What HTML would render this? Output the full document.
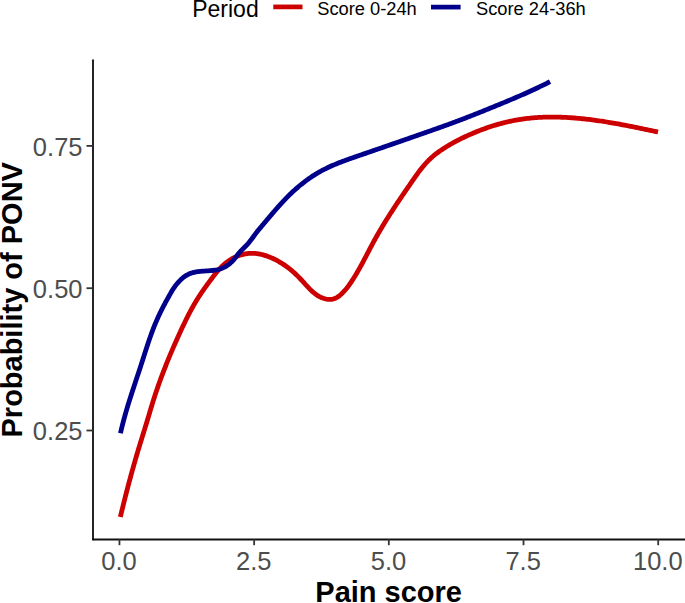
<!DOCTYPE html>
<html><head><meta charset="utf-8"><style>
html,body{margin:0;padding:0;background:#fff;}
body{width:685px;height:603px;overflow:hidden;}
svg{display:block;}
text{font-family:"Liberation Sans",sans-serif;}
.tk{font-size:25.5px;fill:#4D4D4D;}
.tt{font-size:29px;font-weight:bold;fill:#000;}
.lg{font-size:18.3px;fill:#000;}
.lt{font-size:23px;fill:#000;}
</style></head><body>
<svg width="685" height="603" viewBox="0 0 685 603">
<line x1="93" y1="60.2" x2="93" y2="539.4" stroke="#242424" stroke-width="2" stroke-linecap="round"/>
<line x1="93" y1="539.4" x2="686" y2="539.4" stroke="#111" stroke-width="2" stroke-linecap="round"/>
<line x1="86.5" y1="430.50" x2="93" y2="430.50" stroke="#333" stroke-width="1.8"/>
<text x="82.5" y="440.10" text-anchor="end" class="tk">0.25</text>
<line x1="86.5" y1="288.20" x2="93" y2="288.20" stroke="#333" stroke-width="1.8"/>
<text x="82.5" y="297.80" text-anchor="end" class="tk">0.50</text>
<line x1="86.5" y1="145.90" x2="93" y2="145.90" stroke="#333" stroke-width="1.8"/>
<text x="82.5" y="155.50" text-anchor="end" class="tk">0.75</text>
<line x1="119.45" y1="539.2" x2="119.45" y2="545.2" stroke="#333" stroke-width="1.8"/>
<text x="119.05" y="570.2" text-anchor="middle" class="tk">0.0</text>
<line x1="254.14" y1="539.2" x2="254.14" y2="545.2" stroke="#333" stroke-width="1.8"/>
<text x="253.74" y="570.2" text-anchor="middle" class="tk">2.5</text>
<line x1="388.82" y1="539.2" x2="388.82" y2="545.2" stroke="#333" stroke-width="1.8"/>
<text x="388.43" y="570.2" text-anchor="middle" class="tk">5.0</text>
<line x1="523.51" y1="539.2" x2="523.51" y2="545.2" stroke="#333" stroke-width="1.8"/>
<text x="523.11" y="570.2" text-anchor="middle" class="tk">7.5</text>
<line x1="658.20" y1="539.2" x2="658.20" y2="545.2" stroke="#333" stroke-width="1.8"/>
<text x="657.80" y="570.2" text-anchor="middle" class="tk">10.0</text>
<path d="M120.34,517.00 L120.72,515.42 L121.10,513.84 L121.48,512.26 L121.86,510.68 L122.25,509.10 L122.64,507.52 L123.03,505.94 L123.42,504.36 L123.82,502.77 L124.21,501.19 L124.61,499.61 L125.01,498.03 L125.41,496.45 L125.81,494.87 L126.22,493.29 L126.63,491.71 L127.04,490.13 L127.45,488.55 L127.86,486.97 L128.28,485.39 L128.69,483.81 L129.11,482.24 L129.54,480.66 L129.96,479.08 L130.39,477.51 L130.81,475.93 L131.24,474.36 L131.68,472.78 L132.11,471.21 L132.55,469.64 L132.99,468.07 L133.43,466.50 L133.88,464.93 L134.32,463.36 L134.77,461.79 L135.22,460.22 L135.68,458.66 L136.13,457.09 L136.59,455.53 L137.05,453.97 L137.52,452.40 L137.98,450.84 L138.45,449.29 L138.92,447.73 L139.39,446.17 L139.87,444.62 L140.35,443.06 L140.82,441.51 L141.30,439.95 L141.78,438.40 L142.26,436.85 L142.74,435.30 L143.22,433.75 L143.71,432.19 L144.19,430.64 L144.67,429.09 L145.14,427.54 L145.62,425.98 L146.10,424.43 L146.57,422.87 L147.05,421.32 L147.52,419.76 L147.98,418.20 L148.45,416.65 L148.92,415.09 L149.38,413.53 L149.84,411.97 L150.31,410.41 L150.78,408.85 L151.25,407.29 L151.72,405.73 L152.19,404.17 L152.67,402.62 L153.16,401.06 L153.65,399.51 L154.14,397.95 L154.64,396.40 L155.15,394.86 L155.66,393.31 L156.18,391.76 L156.70,390.22 L157.23,388.68 L157.76,387.14 L158.30,385.60 L158.84,384.06 L159.39,382.53 L159.94,380.99 L160.50,379.46 L161.06,377.93 L161.63,376.40 L162.20,374.88 L162.78,373.35 L163.36,371.83 L163.94,370.31 L164.53,368.79 L165.13,367.27 L165.73,365.75 L166.33,364.23 L166.94,362.72 L167.55,361.21 L168.16,359.70 L168.78,358.19 L169.41,356.68 L170.04,355.17 L170.67,353.67 L171.30,352.17 L171.94,350.67 L172.58,349.17 L173.23,347.67 L173.88,346.17 L174.53,344.68 L175.19,343.18 L175.85,341.69 L176.51,340.20 L177.18,338.71 L177.85,337.22 L178.52,335.74 L179.20,334.25 L179.88,332.77 L180.56,331.29 L181.25,329.81 L181.93,328.33 L182.62,326.85 L183.32,325.38 L184.02,323.91 L184.72,322.44 L185.43,320.97 L186.15,319.51 L186.87,318.05 L187.60,316.60 L188.34,315.15 L189.08,313.70 L189.83,312.26 L190.59,310.83 L191.37,309.39 L192.15,307.97 L192.94,306.55 L193.74,305.14 L194.55,303.74 L195.37,302.34 L196.21,300.95 L197.06,299.56 L197.92,298.19 L198.80,296.82 L199.68,295.46 L200.58,294.10 L201.49,292.75 L202.40,291.41 L203.33,290.07 L204.26,288.74 L205.20,287.41 L206.15,286.08 L207.11,284.76 L208.07,283.44 L209.04,282.13 L210.01,280.81 L210.99,279.50 L211.97,278.19 L212.96,276.89 L213.95,275.59 L214.96,274.30 L215.99,273.03 L217.03,271.77 L218.09,270.54 L219.17,269.32 L220.27,268.13 L221.40,266.97 L222.56,265.84 L223.75,264.74 L224.98,263.67 L226.24,262.65 L227.53,261.66 L228.87,260.72 L230.25,259.83 L231.65,258.98 L233.10,258.19 L234.57,257.44 L236.06,256.75 L237.59,256.12 L239.13,255.54 L240.69,255.03 L242.27,254.58 L243.86,254.19 L245.46,253.87 L247.07,253.62 L248.69,253.44 L250.31,253.33 L251.93,253.29 L253.55,253.33 L255.17,253.43 L256.78,253.60 L258.39,253.84 L259.99,254.13 L261.59,254.48 L263.18,254.88 L264.75,255.34 L266.32,255.84 L267.88,256.39 L269.42,256.98 L270.94,257.61 L272.45,258.27 L273.94,258.97 L275.41,259.70 L276.86,260.46 L278.29,261.25 L279.70,262.06 L281.08,262.89 L282.45,263.74 L283.79,264.62 L285.12,265.53 L286.43,266.46 L287.72,267.41 L288.99,268.39 L290.25,269.39 L291.49,270.41 L292.71,271.46 L293.93,272.54 L295.12,273.63 L296.31,274.76 L297.48,275.90 L298.64,277.07 L299.80,278.27 L300.94,279.49 L302.07,280.73 L303.20,281.98 L304.33,283.23 L305.46,284.49 L306.60,285.74 L307.75,286.97 L308.91,288.19 L310.08,289.37 L311.28,290.53 L312.50,291.64 L313.74,292.71 L315.01,293.72 L316.31,294.67 L317.65,295.56 L319.03,296.37 L320.45,297.10 L321.91,297.75 L323.42,298.30 L324.98,298.75 L326.58,299.09 L328.18,299.30 L329.79,299.38 L331.39,299.30 L332.96,299.06 L334.48,298.64 L335.94,298.03 L337.33,297.24 L338.66,296.30 L339.93,295.27 L341.16,294.19 L342.34,293.06 L343.49,291.90 L344.60,290.70 L345.67,289.46 L346.71,288.20 L347.72,286.91 L348.71,285.59 L349.67,284.26 L350.60,282.91 L351.52,281.55 L352.42,280.17 L353.30,278.79 L354.17,277.41 L355.03,276.02 L355.87,274.62 L356.70,273.22 L357.52,271.81 L358.34,270.40 L359.14,268.98 L359.93,267.56 L360.72,266.14 L361.50,264.72 L362.27,263.29 L363.04,261.85 L363.80,260.42 L364.56,258.98 L365.31,257.55 L366.07,256.11 L366.82,254.67 L367.57,253.23 L368.33,251.78 L369.08,250.34 L369.83,248.90 L370.59,247.46 L371.35,246.02 L372.12,244.58 L372.89,243.14 L373.66,241.70 L374.45,240.27 L375.24,238.84 L376.03,237.41 L376.84,235.98 L377.65,234.55 L378.46,233.13 L379.29,231.71 L380.11,230.29 L380.95,228.88 L381.79,227.47 L382.63,226.06 L383.48,224.66 L384.33,223.26 L385.19,221.86 L386.05,220.47 L386.92,219.08 L387.79,217.69 L388.66,216.31 L389.54,214.94 L390.41,213.57 L391.29,212.20 L392.18,210.83 L393.06,209.47 L393.95,208.11 L394.84,206.76 L395.74,205.40 L396.63,204.05 L397.53,202.71 L398.43,201.36 L399.33,200.02 L400.24,198.67 L401.15,197.33 L402.06,195.99 L402.97,194.65 L403.88,193.31 L404.80,191.97 L405.72,190.63 L406.64,189.29 L407.56,187.95 L408.48,186.61 L409.41,185.27 L410.33,183.92 L411.26,182.58 L412.19,181.23 L413.12,179.89 L414.06,178.54 L415.00,177.19 L415.95,175.85 L416.90,174.52 L417.86,173.19 L418.84,171.87 L419.82,170.56 L420.82,169.26 L421.83,167.97 L422.86,166.71 L423.91,165.45 L424.97,164.22 L426.06,163.01 L427.17,161.82 L428.30,160.66 L429.45,159.52 L430.63,158.40 L431.84,157.32 L433.06,156.25 L434.31,155.21 L435.58,154.20 L436.86,153.20 L438.17,152.23 L439.49,151.28 L440.83,150.35 L442.18,149.43 L443.54,148.54 L444.92,147.66 L446.31,146.79 L447.71,145.95 L449.11,145.11 L450.53,144.29 L451.95,143.49 L453.38,142.69 L454.81,141.91 L456.25,141.15 L457.70,140.39 L459.16,139.65 L460.62,138.92 L462.08,138.19 L463.55,137.49 L465.03,136.79 L466.51,136.10 L467.99,135.42 L469.48,134.76 L470.98,134.10 L472.47,133.45 L473.98,132.82 L475.48,132.19 L476.99,131.58 L478.50,130.98 L480.02,130.38 L481.54,129.80 L483.07,129.23 L484.60,128.67 L486.13,128.12 L487.67,127.59 L489.21,127.06 L490.75,126.55 L492.30,126.05 L493.85,125.56 L495.40,125.09 L496.96,124.63 L498.52,124.18 L500.09,123.74 L501.66,123.32 L503.23,122.91 L504.80,122.51 L506.38,122.13 L507.96,121.76 L509.55,121.40 L511.14,121.06 L512.73,120.74 L514.32,120.42 L515.92,120.12 L517.52,119.84 L519.12,119.57 L520.73,119.32 L522.34,119.08 L523.95,118.85 L525.57,118.64 L527.18,118.45 L528.80,118.27 L530.43,118.10 L532.05,117.94 L533.67,117.80 L535.30,117.67 L536.93,117.56 L538.56,117.45 L540.19,117.36 L541.82,117.28 L543.46,117.22 L545.09,117.16 L546.73,117.12 L548.36,117.09 L550.00,117.07 L551.64,117.06 L553.27,117.06 L554.91,117.08 L556.55,117.10 L558.18,117.13 L559.82,117.18 L561.45,117.23 L563.09,117.29 L564.72,117.37 L566.36,117.45 L567.99,117.54 L569.62,117.64 L571.25,117.75 L572.88,117.87 L574.51,117.99 L576.13,118.13 L577.76,118.27 L579.38,118.42 L581.00,118.57 L582.62,118.74 L584.24,118.91 L585.86,119.09 L587.48,119.28 L589.09,119.47 L590.71,119.67 L592.32,119.88 L593.93,120.09 L595.55,120.31 L597.16,120.53 L598.77,120.76 L600.38,121.00 L601.98,121.24 L603.59,121.49 L605.20,121.75 L606.80,122.00 L608.41,122.27 L610.01,122.53 L611.62,122.81 L613.22,123.08 L614.82,123.37 L616.43,123.65 L618.03,123.94 L619.63,124.23 L621.23,124.53 L622.83,124.83 L624.43,125.14 L626.03,125.44 L627.63,125.75 L629.23,126.07 L630.83,126.38 L632.43,126.70 L634.03,127.02 L635.62,127.34 L637.22,127.67 L638.82,127.99 L640.42,128.32 L642.02,128.65 L643.61,128.98 L645.21,129.32 L646.81,129.65 L648.41,129.98 L650.01,130.32 L651.61,130.66 L653.20,130.99 L654.80,131.33 L656.40,131.66 L658.00,132.00" fill="none" stroke="#CC0000" stroke-width="4.8" stroke-linejoin="round"/>
<path d="M120.45,433.33 L120.72,432.16 L120.98,430.98 L121.26,429.81 L121.54,428.64 L121.82,427.48 L122.10,426.31 L122.40,425.15 L122.69,423.98 L122.99,422.82 L123.29,421.66 L123.60,420.51 L123.91,419.35 L124.22,418.19 L124.54,417.04 L124.86,415.89 L125.18,414.74 L125.51,413.59 L125.84,412.44 L126.17,411.29 L126.51,410.15 L126.85,409.00 L127.19,407.86 L127.53,406.72 L127.88,405.57 L128.22,404.43 L128.57,403.29 L128.93,402.15 L129.28,401.02 L129.64,399.88 L130.00,398.74 L130.36,397.61 L130.72,396.47 L131.09,395.34 L131.45,394.20 L131.82,393.07 L132.19,391.93 L132.55,390.80 L132.92,389.67 L133.30,388.54 L133.67,387.40 L134.04,386.27 L134.42,385.14 L134.79,384.01 L135.16,382.88 L135.54,381.74 L135.92,380.61 L136.29,379.48 L136.67,378.35 L137.04,377.22 L137.42,376.09 L137.80,374.95 L138.17,373.82 L138.55,372.69 L138.92,371.55 L139.30,370.42 L139.67,369.29 L140.04,368.15 L140.41,367.02 L140.78,365.88 L141.15,364.74 L141.52,363.61 L141.89,362.47 L142.26,361.33 L142.62,360.19 L142.99,359.05 L143.35,357.91 L143.71,356.77 L144.08,355.63 L144.44,354.49 L144.81,353.35 L145.17,352.21 L145.54,351.07 L145.90,349.93 L146.27,348.79 L146.64,347.65 L147.01,346.51 L147.39,345.38 L147.76,344.24 L148.14,343.10 L148.52,341.97 L148.90,340.84 L149.29,339.70 L149.68,338.57 L150.07,337.44 L150.47,336.31 L150.87,335.19 L151.27,334.06 L151.68,332.94 L152.10,331.82 L152.51,330.70 L152.94,329.58 L153.37,328.47 L153.80,327.35 L154.24,326.24 L154.69,325.13 L155.14,324.03 L155.60,322.93 L156.07,321.83 L156.54,320.73 L157.02,319.64 L157.50,318.55 L157.99,317.46 L158.49,316.37 L159.00,315.29 L159.51,314.21 L160.02,313.13 L160.54,312.06 L161.07,310.98 L161.60,309.91 L162.14,308.85 L162.68,307.78 L163.23,306.72 L163.78,305.66 L164.34,304.60 L164.90,303.55 L165.46,302.49 L166.03,301.44 L166.60,300.39 L167.18,299.35 L167.76,298.30 L168.34,297.26 L168.93,296.22 L169.52,295.18 L170.11,294.14 L170.70,293.11 L171.30,292.08 L171.90,291.05 L172.52,290.03 L173.15,289.02 L173.79,288.02 L174.47,287.05 L175.16,286.09 L175.89,285.15 L176.63,284.22 L177.40,283.32 L178.19,282.43 L179.01,281.56 L179.84,280.70 L180.69,279.85 L181.55,279.03 L182.45,278.22 L183.36,277.46 L184.31,276.73 L185.29,276.04 L186.30,275.40 L187.34,274.81 L188.40,274.28 L189.49,273.79 L190.59,273.36 L191.71,272.98 L192.84,272.65 L193.99,272.36 L195.15,272.10 L196.32,271.89 L197.51,271.70 L198.69,271.54 L199.89,271.41 L201.09,271.29 L202.30,271.19 L203.51,271.10 L204.72,271.03 L205.94,270.95 L207.15,270.87 L208.36,270.80 L209.57,270.71 L210.78,270.61 L211.98,270.50 L213.17,270.37 L214.36,270.21 L215.54,270.03 L216.70,269.82 L217.86,269.57 L219.00,269.29 L220.13,268.96 L221.24,268.58 L222.34,268.16 L223.42,267.68 L224.48,267.16 L225.52,266.58 L226.54,265.96 L227.54,265.30 L228.51,264.60 L229.46,263.86 L230.38,263.08 L231.28,262.28 L232.14,261.44 L232.98,260.57 L233.79,259.67 L234.56,258.76 L235.32,257.82 L236.05,256.88 L236.77,255.92 L237.49,254.97 L238.22,254.03 L238.96,253.10 L239.73,252.18 L240.52,251.30 L241.34,250.43 L242.18,249.58 L243.03,248.75 L243.89,247.91 L244.74,247.08 L245.59,246.24 L246.42,245.39 L247.24,244.51 L248.03,243.62 L248.80,242.71 L249.55,241.79 L250.29,240.85 L251.02,239.90 L251.74,238.94 L252.45,237.98 L253.15,237.01 L253.86,236.05 L254.56,235.08 L255.27,234.12 L255.99,233.16 L256.72,232.21 L257.45,231.27 L258.20,230.34 L258.95,229.42 L259.71,228.50 L260.48,227.59 L261.25,226.68 L262.02,225.77 L262.79,224.86 L263.56,223.95 L264.33,223.04 L265.10,222.13 L265.87,221.21 L266.64,220.30 L267.41,219.39 L268.18,218.48 L268.95,217.56 L269.73,216.65 L270.50,215.74 L271.27,214.83 L272.05,213.92 L272.82,213.01 L273.60,212.10 L274.38,211.20 L275.16,210.30 L275.95,209.39 L276.73,208.50 L277.52,207.60 L278.31,206.70 L279.11,205.81 L279.91,204.93 L280.71,204.04 L281.52,203.16 L282.32,202.28 L283.14,201.41 L283.95,200.54 L284.78,199.67 L285.60,198.81 L286.43,197.95 L287.27,197.10 L288.11,196.25 L288.96,195.41 L289.81,194.57 L290.67,193.74 L291.53,192.92 L292.40,192.10 L293.27,191.28 L294.15,190.48 L295.04,189.68 L295.93,188.88 L296.83,188.09 L297.74,187.31 L298.64,186.54 L299.56,185.77 L300.48,185.01 L301.41,184.26 L302.34,183.52 L303.28,182.78 L304.22,182.05 L305.17,181.33 L306.13,180.62 L307.09,179.91 L308.05,179.22 L309.02,178.53 L310.00,177.85 L310.99,177.18 L311.98,176.52 L312.97,175.87 L313.97,175.23 L314.98,174.60 L315.99,173.98 L317.01,173.36 L318.03,172.76 L319.06,172.17 L320.09,171.58 L321.13,171.01 L322.18,170.45 L323.23,169.90 L324.29,169.36 L325.35,168.82 L326.41,168.30 L327.48,167.78 L328.56,167.28 L329.64,166.78 L330.72,166.28 L331.81,165.80 L332.90,165.32 L334.00,164.85 L335.09,164.39 L336.20,163.93 L337.30,163.48 L338.41,163.04 L339.52,162.60 L340.64,162.17 L341.75,161.74 L342.87,161.31 L343.99,160.89 L345.11,160.48 L346.24,160.06 L347.36,159.65 L348.49,159.25 L349.62,158.85 L350.75,158.45 L351.88,158.05 L353.02,157.65 L354.15,157.26 L355.28,156.87 L356.42,156.47 L357.55,156.08 L358.69,155.69 L359.82,155.30 L360.95,154.92 L362.09,154.53 L363.22,154.14 L364.36,153.75 L365.49,153.36 L366.62,152.97 L367.75,152.58 L368.89,152.19 L370.02,151.80 L371.15,151.41 L372.28,151.02 L373.41,150.63 L374.54,150.24 L375.67,149.85 L376.81,149.46 L377.94,149.07 L379.07,148.68 L380.20,148.29 L381.33,147.90 L382.46,147.51 L383.59,147.12 L384.72,146.73 L385.84,146.34 L386.97,145.95 L388.10,145.56 L389.23,145.17 L390.36,144.78 L391.49,144.39 L392.62,144.00 L393.75,143.61 L394.87,143.22 L396.00,142.83 L397.13,142.44 L398.26,142.05 L399.39,141.65 L400.51,141.26 L401.64,140.87 L402.77,140.48 L403.90,140.09 L405.02,139.70 L406.15,139.31 L407.28,138.91 L408.41,138.52 L409.53,138.13 L410.66,137.74 L411.79,137.35 L412.91,136.96 L414.04,136.56 L415.17,136.17 L416.30,135.78 L417.42,135.38 L418.55,134.99 L419.68,134.60 L420.80,134.21 L421.93,133.81 L423.06,133.42 L424.19,133.03 L425.31,132.63 L426.44,132.24 L427.57,131.84 L428.69,131.45 L429.82,131.05 L430.95,130.66 L432.07,130.26 L433.20,129.86 L434.32,129.47 L435.45,129.07 L436.57,128.67 L437.70,128.27 L438.82,127.87 L439.95,127.47 L441.07,127.07 L442.19,126.66 L443.32,126.26 L444.44,125.86 L445.56,125.45 L446.68,125.05 L447.80,124.64 L448.92,124.23 L450.04,123.82 L451.16,123.41 L452.28,123.00 L453.40,122.59 L454.51,122.17 L455.63,121.76 L456.74,121.34 L457.86,120.92 L458.97,120.51 L460.09,120.08 L461.20,119.66 L462.31,119.24 L463.42,118.81 L464.53,118.39 L465.64,117.96 L466.75,117.53 L467.86,117.10 L468.96,116.67 L470.07,116.24 L471.18,115.81 L472.28,115.37 L473.39,114.94 L474.49,114.50 L475.60,114.06 L476.70,113.62 L477.81,113.18 L478.91,112.74 L480.02,112.30 L481.12,111.86 L482.22,111.42 L483.33,110.97 L484.43,110.53 L485.53,110.08 L486.64,109.63 L487.74,109.19 L488.84,108.74 L489.95,108.29 L491.05,107.84 L492.15,107.39 L493.26,106.94 L494.36,106.49 L495.47,106.04 L496.57,105.58 L497.68,105.13 L498.78,104.68 L499.89,104.22 L500.99,103.77 L502.10,103.31 L503.20,102.86 L504.31,102.40 L505.41,101.94 L506.52,101.48 L507.62,101.02 L508.73,100.56 L509.83,100.09 L510.93,99.63 L512.04,99.16 L513.14,98.70 L514.24,98.23 L515.34,97.76 L516.44,97.29 L517.54,96.82 L518.64,96.34 L519.74,95.86 L520.84,95.39 L521.94,94.91 L523.03,94.43 L524.13,93.94 L525.22,93.46 L526.31,92.97 L527.41,92.48 L528.50,91.99 L529.59,91.50 L530.68,91.00 L531.77,90.51 L532.85,90.01 L533.94,89.51 L535.02,89.00 L536.10,88.50 L537.18,87.99 L538.26,87.48 L539.34,86.96 L540.42,86.45 L541.49,85.93 L542.57,85.41 L543.64,84.88 L544.71,84.36 L545.78,83.83 L546.84,83.29 L547.91,82.76 L548.97,82.22 L550.03,81.68" fill="none" stroke="#00008B" stroke-width="4.8" stroke-linejoin="round"/>
<text transform="translate(388.6,601.8) scale(1,1.03)" text-anchor="middle" class="tt">Pain score</text>
<text transform="translate(22.4,299.8) rotate(-90) scale(1,1.03)" text-anchor="middle" class="tt">Probability of PONV</text>
<text x="192.2" y="17.0" class="lt">Period</text>
<line x1="273.3" y1="6.9" x2="302.5" y2="6.9" stroke="#CC0000" stroke-width="4.7"/>
<text x="317.2" y="14.8" class="lg">Score 0-24h</text>
<line x1="431" y1="7.1" x2="460.6" y2="7.1" stroke="#00008B" stroke-width="4.7"/>
<text x="476.0" y="14.8" class="lg">Score 24-36h</text>
</svg>
</body></html>
